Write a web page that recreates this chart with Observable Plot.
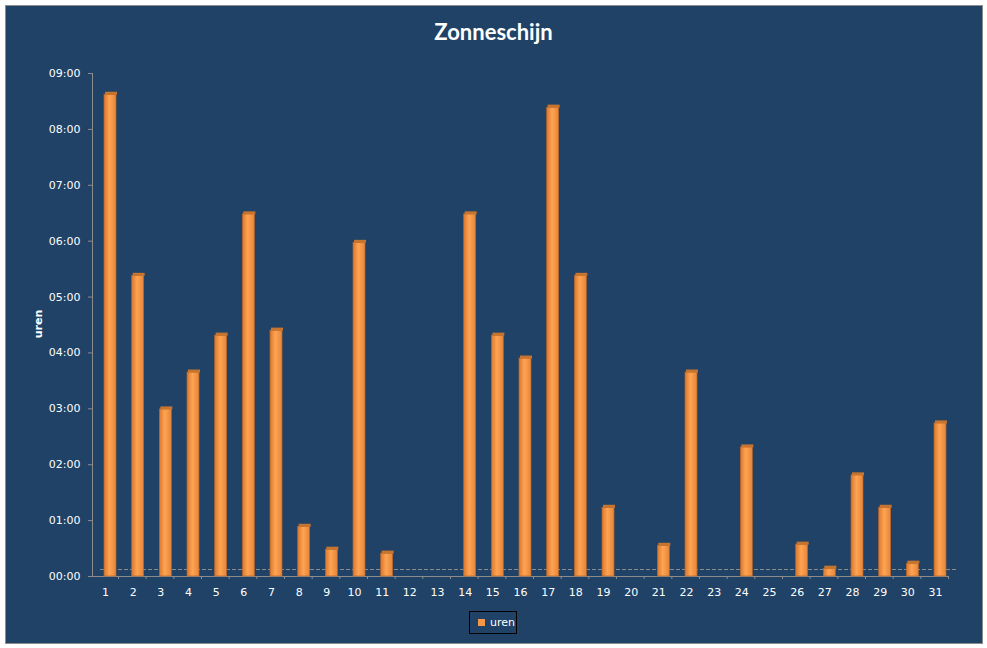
<!DOCTYPE html>
<html>
<head>
<meta charset="utf-8">
<script src="https://cdn.jsdelivr.net/npm/d3@7"></script>
<script src="https://cdn.jsdelivr.net/npm/@observablehq/plot@0.6"></script>
<style>
  html, body { margin: 0; padding: 0; background: #ffffff; }
  #wrap { position: relative; width: 987px; height: 648px; overflow: hidden; }
  #panel { position: absolute; left: 5px; top: 5px; width: 976px; height: 637px; background: #1F4266; border: 1px solid #8C8C8C; }
  #title { position: absolute; left: 0; top: 18px; width: 987px; text-align: center; color: #ffffff; font: bold 22px Lato, "Open Sans", sans-serif; }
  #ylabel { position: absolute; left: 38px; top: 324px; color: #ffffff; font: bold 11px "DejaVu Sans", sans-serif; transform: translate(-50%, -50%) rotate(-90deg); white-space: nowrap; }
  #chart { position: absolute; left: 0; top: 0; }
  #legend { position: absolute; left: 469px; top: 611px; width: 48px; height: 23px; border: 1px solid #000000; box-sizing: border-box; display: flex; align-items: center; gap: 5px; padding-left: 8px; color: #ffffff; font: 11px "DejaVu Sans", sans-serif; }
  #legend .sw { width: 7px; height: 7px; background: #F79646; }
</style>
</head>
<body>
<div id="wrap">
  <div id="panel"></div>
  <div id="chart"></div>
  <div id="title">Zonneschijn</div>
  <div id="ylabel">uren</div>
  <div id="legend"><span class="sw"></span><span>uren</span></div>
</div>
<script>
const days = [1,2,3,4,5,6,7,8,9,10,11,12,13,14,15,16,17,18,19,20,21,22,23,24,25,26,27,28,29,30,31];
const uren = [8.62,5.38,2.99,3.65,4.31,6.48,4.40,0.89,0.48,5.97,0.41,0,0,6.48,4.31,3.90,8.39,5.38,1.23,0,0.55,3.65,0,2.31,0,0.57,0.14,1.81,1.23,0.23,2.74];
const hourTicks = [0,1,2,3,4,5,6,7,8,9];
const seriesName = "uren";

const data = days.map((d, i) => ({day: d, uren: uren[i]}));
const nonzero = data.filter(d => d.uren > 0);

const chart = Plot.plot({
  width: 987,
  height: 648,
  marginTop: 73,
  marginBottom: 72,
  marginLeft: 92,
  marginRight: 38,
  style: {background: "transparent", color: "#ffffff", fontFamily: "DejaVu Sans", fontSize: "11px"},
  x: {type: "band", domain: days, range: [96.17, 953.83], paddingInner: 0.566, paddingOuter: 0.283, round: false},
  y: {domain: [0, 9], range: [576, 73]},
  marks: [
    Plot.ruleY([0], {stroke: "#8C8C8C", strokeDasharray: "4,2", dx: 8, dy: -7}),
    Plot.ruleY([0], {stroke: "#8C8C8C"}),
    Plot.frame({anchor: "left", stroke: "#8C8C8C"}),
    Plot.axisY({ticks: hourTicks, tickFormat: d => String(d).padStart(2, "0") + ":00", tickSize: 4, tickPadding: 8, stroke: "#8C8C8C", fill: "#ffffff", label: null}),
    Plot.axisX({tickSize: 3, text: null, dx: 8, stroke: "#8C8C8C", label: null}),
    Plot.axisX({tickSize: 0, tickPadding: 12, dx: -5, fill: "#ffffff", label: null}),
    Plot.barY(nonzero, {x: "day", y: seriesName, fill: "url(#barGrad)", stroke: "#B5652B", strokeWidth: 0.7}),
    Plot.tickY(nonzero, {x: "day", y: seriesName, stroke: "#C7742F", strokeWidth: 3, dy: -1.5, dx: 1})
  ]
});

const svg = d3.select(chart);
const grad = svg.insert("defs", ":first-child").append("linearGradient")
  .attr("id", "barGrad").attr("x1", "0").attr("x2", "1").attr("y1", "0").attr("y2", "0");
grad.append("stop").attr("offset", "0%").attr("stop-color", "#D9782F");
grad.append("stop").attr("offset", "45%").attr("stop-color", "#FFA452");
grad.append("stop").attr("offset", "100%").attr("stop-color", "#E5853A");

document.getElementById("chart").appendChild(chart);
</script>
</body>
</html>
